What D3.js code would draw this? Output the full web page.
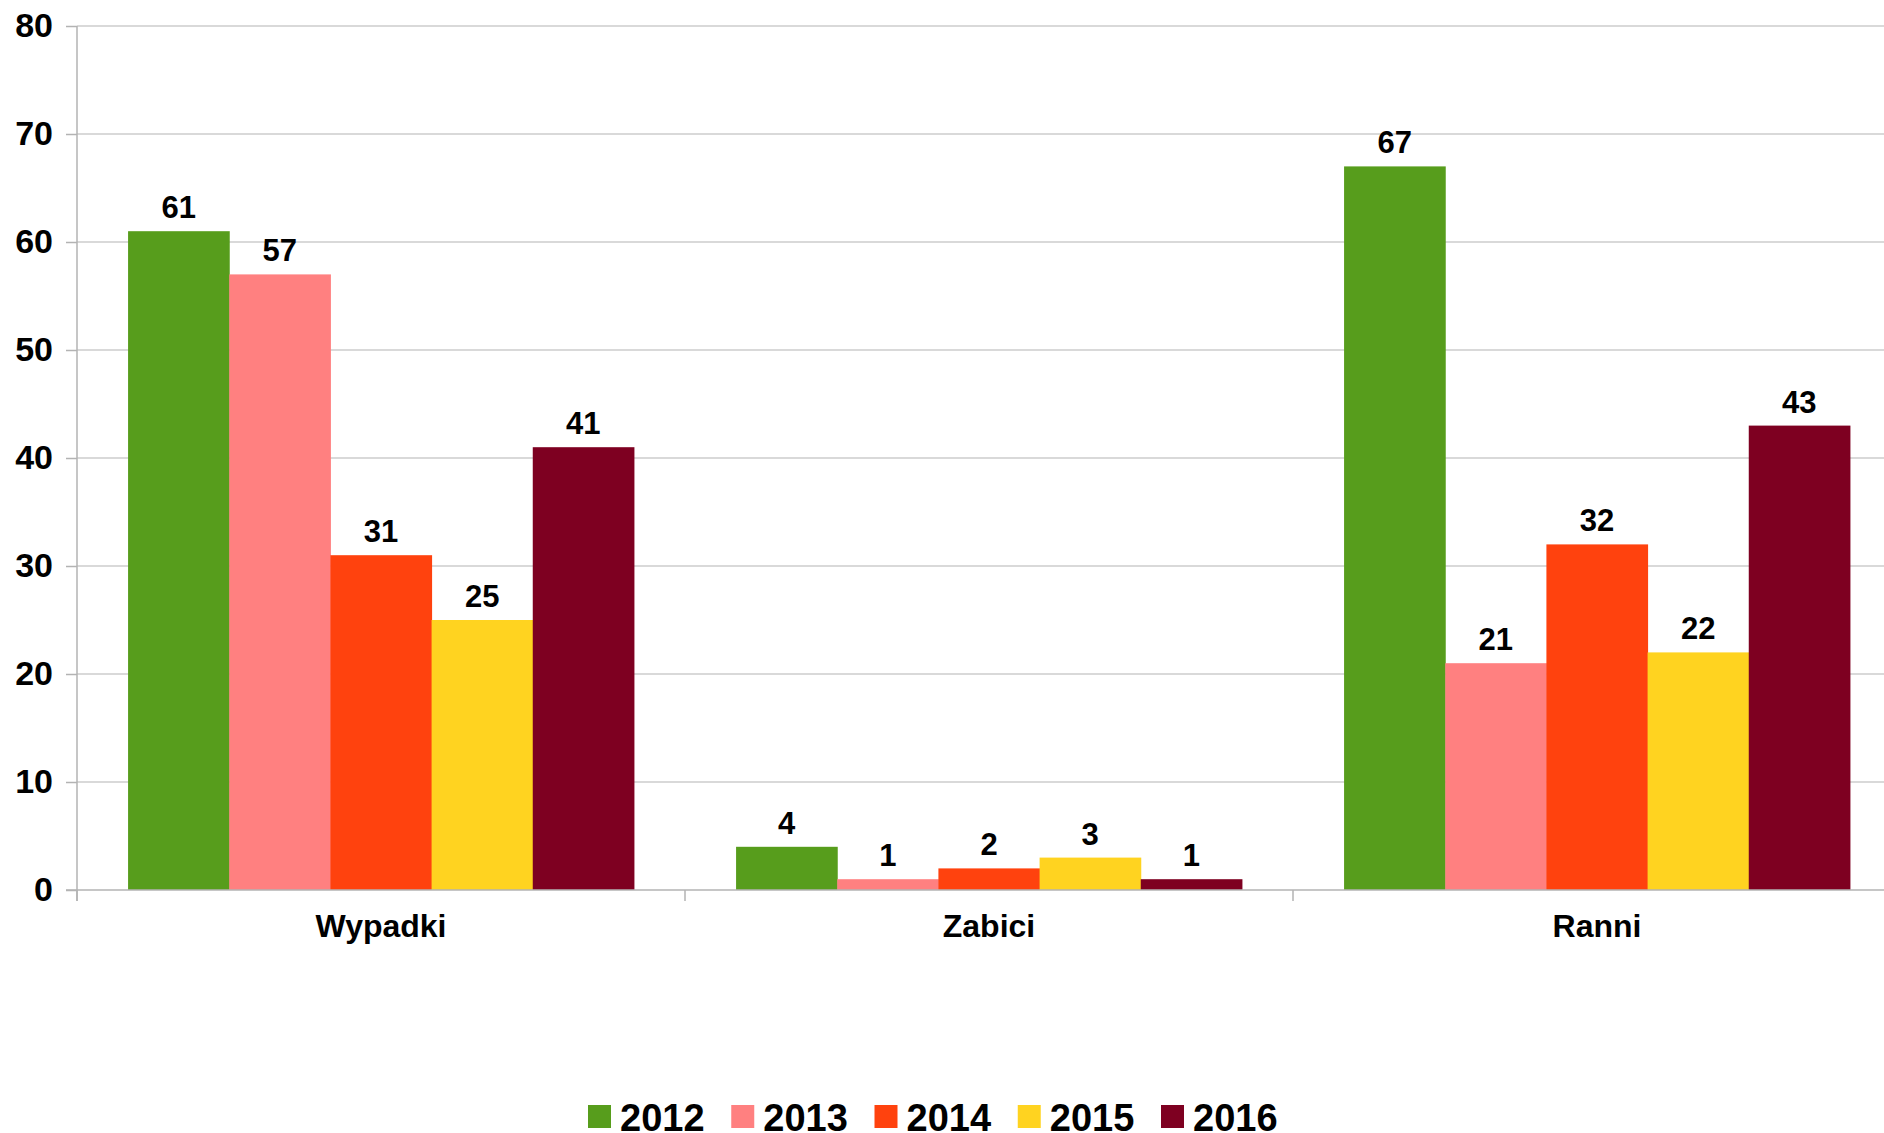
<!DOCTYPE html>
<html>
<head>
<meta charset="utf-8">
<script src="https://cdn.jsdelivr.net/npm/d3@7"></script>
<style>
  html, body { margin: 0; padding: 0; background: #fff; overflow: hidden; }
  svg { display: block; font-family: "Liberation Sans", Arial, sans-serif; font-weight: bold; }
</style>
</head>
<body>
<svg id="chart" width="1884" height="1133"></svg>
<script>
// Data
const categories = ["Wypadki", "Zabici", "Ranni"];
const years = ["2012", "2013", "2014", "2015", "2016"];
const values2012 = [61, 4, 67];
const values2013 = [57, 1, 21];
const values2014 = [31, 2, 32];
const values2015 = [25, 3, 22];
const values2016 = [41, 1, 43];
const yTicks = [0, 10, 20, 30, 40, 50, 60, 70, 80];
const colors = ["#579d1c", "#ff8080", "#ff420e", "#ffd320", "#7e0021"];

const series = [values2012, values2013, values2014, values2015, values2016];

const svg = d3.select("#chart");
const mLeft = 77, mRight = 1901, mTop = 26, mBottom = 890;

const x0 = d3.scaleBand().domain(categories).range([mLeft, mRight]);
const gap = x0.bandwidth() * 0.084;
const x1 = d3.scaleBand().domain(years).range([gap, x0.bandwidth() - gap]);
const y = d3.scaleLinear().domain([0, 80]).range([mBottom, mTop]);

// Grid
svg.append("g")
  .selectAll("line")
  .data(yTicks.filter(d => d > 0))
  .join("line")
  .attr("x1", mLeft).attr("x2", 1884)
  .attr("y1", d => y(d)).attr("y2", d => y(d))
  .attr("stroke", "#cccccc").attr("stroke-width", 1.5);

// Y axis
const yAxis = svg.append("g")
  .attr("transform", `translate(${mLeft},0)`)
  .call(d3.axisLeft(y).tickValues(yTicks).tickSize(11).tickPadding(13));
yAxis.select(".domain").attr("stroke", "#b3b3b3").attr("stroke-width", 1.5)
  .attr("d", `M0,${mTop}V${mBottom + 11}`);
yAxis.selectAll(".tick line").attr("stroke", "#b3b3b3").attr("stroke-width", 1.5);
yAxis.selectAll(".tick text")
  .attr("font-size", 34).attr("font-weight", "bold").attr("fill", "#000")
  .attr("font-family", "Liberation Sans, Arial, sans-serif");

// Bars
const groups = svg.append("g")
  .selectAll("g")
  .data(categories)
  .join("g")
  .attr("transform", d => `translate(${x0(d)},0)`);

groups.selectAll("rect")
  .data((c, ci) => years.map((yr, si) => ({ yr, si, v: series[si][ci] })))
  .join("rect")
  .attr("x", d => x1(d.yr))
  .attr("width", x1.bandwidth() + 0.5)
  .attr("y", d => y(d.v))
  .attr("height", d => mBottom - y(d.v))
  .attr("fill", d => colors[d.si]);

groups.selectAll("text")
  .data((c, ci) => years.map((yr, si) => ({ yr, si, v: series[si][ci] })))
  .join("text")
  .attr("x", d => x1(d.yr) + x1.bandwidth() / 2)
  .attr("y", d => y(d.v) - 13)
  .attr("text-anchor", "middle")
  .attr("font-size", 31)
  .attr("fill", "#000")
  .text(d => d.v);

// X axis
const xAxis = svg.append("g")
  .attr("transform", `translate(0,${mBottom})`)
  .call(d3.axisBottom(x0).tickSize(0).tickPadding(24));
xAxis.select(".domain").attr("stroke", "#b3b3b3").attr("stroke-width", 1.5)
  .attr("d", `M${mLeft - 11},0H1884`);
xAxis.selectAll(".tick text")
  .attr("font-size", 32).attr("font-weight", "bold").attr("fill", "#000")
  .attr("font-family", "Liberation Sans, Arial, sans-serif");
// category separators
svg.append("g")
  .selectAll("line")
  .data(categories)
  .join("line")
  .attr("x1", d => x0(d)).attr("x2", d => x0(d))
  .attr("y1", mBottom).attr("y2", mBottom + 11)
  .attr("stroke", "#b3b3b3").attr("stroke-width", 1.5);

// Legend
const legendX = d3.scalePoint().domain(years).range([588, 1161]);
const legend = svg.append("g")
  .selectAll("g")
  .data(years)
  .join("g")
  .attr("transform", d => `translate(${legendX(d)},1105)`);
legend.append("rect")
  .attr("width", 23).attr("height", 23)
  .attr("fill", (d, i) => colors[i]);
legend.append("text")
  .attr("x", 32).attr("y", 26)
  .attr("font-size", 38)
  .attr("fill", "#000")
  .text(d => d);
</script>
</body>
</html>
